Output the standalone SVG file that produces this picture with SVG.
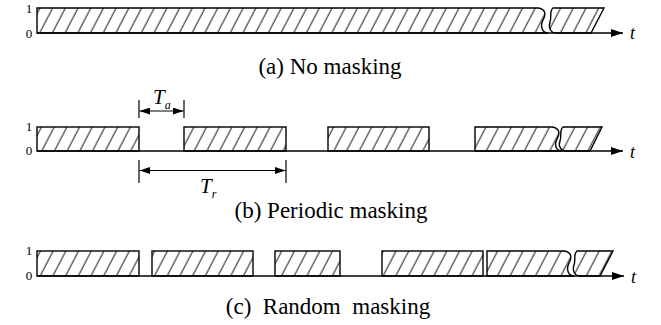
<svg xmlns="http://www.w3.org/2000/svg" width="661" height="325" viewBox="0 0 661 325">
<style>
.bar{fill:url(#hatch);stroke:#000;stroke-width:1.4;stroke-linejoin:miter}
.axis{stroke:#000;stroke-width:1.4;fill:none}
.dim{stroke:#000;stroke-width:1.2;fill:none}
text{font-family:"Liberation Serif","Times New Roman",Tinos,"DejaVu Serif",serif}
.lvl{font-size:13px;text-anchor:middle}
.t{font-size:18px;font-style:italic}
.cap{font-size:23px;text-anchor:middle;white-space:pre}
.sym{font-size:21px;font-style:italic}
.sub{font-size:12px;font-style:italic}
</style>
<defs>
<pattern id="hatch" patternUnits="userSpaceOnUse" width="12.7" height="10" patternTransform="skewX(-27.5)">
<line x1="6" y1="-1" x2="6" y2="11" stroke="#000" stroke-width="1"/>
</pattern>
<marker id="arr" viewBox="0 0 12 8" refX="12" refY="4" markerWidth="12" markerHeight="8" markerUnits="userSpaceOnUse" orient="auto">
<path d="M0,0 L12,4 L0,8 Z" fill="#000"/>
</marker>
<marker id="arrS" viewBox="0 0 12 8" refX="12" refY="4" markerWidth="11" markerHeight="7" markerUnits="userSpaceOnUse" orient="auto-start-reverse">
<path d="M0,0 L12,4 L0,8 Z" fill="#000"/>
</marker>
</defs>

<!-- (a) No masking -->
<g id="row-a">
<text class="lvl" x="29" y="12.5">1</text>
<text class="lvl" x="29" y="37.5">0</text>
<path class="bar" d="M37 33 V8 H538 C546 9 546 15 543 20 C540 26 542 33 548 33 Z"/>
<path class="bar" d="M553 8 H604 L591 33 H556 C551 33 548 28 550 22 C552 17 549 11 553 8 Z"/>
<text class="t" x="630" y="39">t</text>
<text class="cap" x="330" y="74">(a) No masking</text>
</g>

<!-- (b) Periodic masking -->
<g id="row-b">
<text class="lvl" x="29" y="130.5">1</text>
<text class="lvl" x="29" y="154.5">0</text>
<rect class="bar" x="37" y="127" width="102" height="24"/>
<rect class="bar" x="184" y="127" width="102" height="24"/>
<rect class="bar" x="328" y="127" width="101" height="24"/>
<path class="bar" d="M475 151 V127 H552 C560 128 560 134 557 139 C554 145 556 151 562 151 Z"/>
<path class="bar" d="M563 127 H602 L590 151 H566 C561 151 558 146 560 141 C562 136 559 130 563 127 Z"/>
<text class="t" x="630" y="158">t</text>
<text class="cap" x="331" y="218">(b) Periodic masking</text>
</g>

<!-- (c) Random masking -->
<g id="row-c">
<text class="lvl" x="29" y="254.5">1</text>
<text class="lvl" x="29" y="280">0</text>
<rect class="bar" x="37" y="251" width="102" height="25"/>
<rect class="bar" x="152" y="251" width="101" height="25"/>
<rect class="bar" x="275" y="251" width="65" height="25"/>
<rect class="bar" x="382" y="251" width="101" height="25"/>
<path class="bar" d="M487 276 V251 H564 C572 252 572 258 569 263 C566 269 568 276 574 276 Z"/>
<path class="bar" d="M577 251 H613 L600 276 H580 C575 276 572 271 574 265 C576 260 573 254 577 251 Z"/>
<text class="t" x="631" y="283">t</text>
<text class="cap" x="328" y="314">(c)  Random  masking</text>
</g>

<!-- connectors: time axes and dimension lines -->
<g id="connectors">
<line class="axis" x1="37" y1="33" x2="623" y2="33" marker-end="url(#arr)"/>
<line class="axis" x1="37" y1="151" x2="623" y2="151" marker-end="url(#arr)"/>
<line class="axis" x1="37" y1="276" x2="624" y2="276" marker-end="url(#arr)"/>
<line class="dim" x1="139" y1="100" x2="139" y2="118"/>
<line class="dim" x1="184" y1="100" x2="184" y2="118"/>
<line class="dim" x1="139.6" y1="111" x2="183.4" y2="111" marker-start="url(#arrS)" marker-end="url(#arrS)"/>
<line class="dim" x1="139" y1="160" x2="139" y2="183"/>
<line class="dim" x1="286" y1="160" x2="286" y2="183"/>
<line class="dim" x1="139.6" y1="170.5" x2="285.4" y2="170.5" marker-start="url(#arrS)" marker-end="url(#arrS)"/>
</g>

<g id="labels">
<text class="sym" x="153" y="104">T<tspan class="sub" dy="5">a</tspan></text>
<text class="sym" x="200" y="193">T<tspan class="sub" dy="5">r</tspan></text>
</g>
</svg>
